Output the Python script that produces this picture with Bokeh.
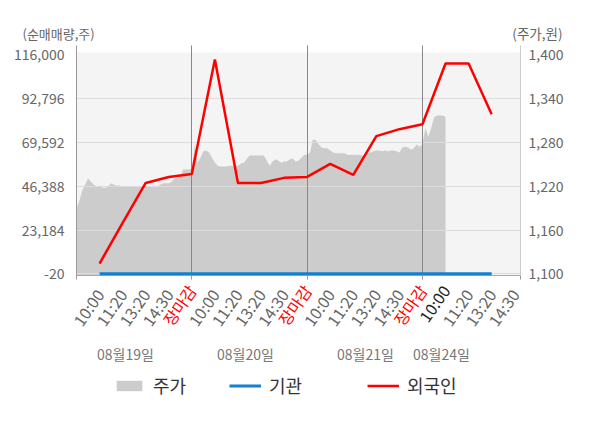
import math
from bokeh.plotting import figure
from bokeh.models import (Range1d, LinearAxis, FixedTicker, NumeralTickFormatter, Grid,
                          BoxAnnotation, Legend, LegendItem, Label)
from bokeh.embed import file_html
from bokeh.resources import INLINE

# ---------------- data ----------------
tick_labels = ["10:00", "11:20", "13:20", "14:30", "장마감",
               "10:00", "11:20", "13:20", "14:30", "장마감",
               "10:00", "11:20", "13:20", "14:30", "장마감",
               "10:00", "11:20", "13:20", "14:30"]
day_labels = ["08월19일", "08월20일", "08월21일", "08월24일"]
series_names = ["주가", "기관", "외국인"]

# 외국인 net buying (shares), one value per labelled slot
foreign = [5400, 27000, 48100, 51300, 52900,
           113500, 48100, 48100, 50800, 51300,
           58200, 52400, 72900, 76600, 79200,
           111400, 111400, 84500]
# 기관 net buying (shares)
institution = [0, 0, 0, 0, 0,
               0, 0, 0, 0, 0,
               0, 0, 0, 0, 0,
               0, 0, 0]
# 주가 (won), 8 samples per slot, starting at 09:00 of 08월19일
price = [1189, 1200, 1214, 1222, 1231, 1226, 1222, 1220, 1221, 1218,
         1218, 1220, 1224, 1222, 1221, 1221, 1220, 1220, 1220, 1220,
         1220, 1220, 1220, 1220, 1220, 1220, 1220, 1221, 1220, 1222,
         1224, 1224, 1224, 1226, 1231, 1231, 1233, 1243, 1243, 1243,
         1244, 1276, 1252, 1259, 1268, 1269, 1266, 1259, 1252, 1248,
         1247, 1247, 1247, 1248, 1248, 1248, 1248, 1251, 1252, 1257,
         1262, 1262, 1262, 1262, 1262, 1262, 1255, 1248, 1254, 1257,
         1255, 1252, 1254, 1254, 1257, 1258, 1254, 1255, 1259, 1263,
         1263, 1266, 1284, 1283, 1277, 1273, 1272, 1272, 1269, 1266,
         1265, 1265, 1265, 1265, 1263, 1263, 1263, 1263, 1263, 1262,
         1262, 1265, 1266, 1268, 1269, 1269, 1268, 1269, 1268, 1269,
         1269, 1268, 1266, 1273, 1274, 1273, 1270, 1272, 1277, 1274,
         1277, 1300, 1288, 1299, 1314, 1317, 1317, 1317, 1315]
samples_per_slot = 8

left_ticks = [-20, 23184, 46388, 69592, 92796, 116000]
right_ticks = [1100, 1160, 1220, 1280, 1340, 1400]

# ---------------- layout (pixels) ----------------
FONT = "Noto Sans CJK KR"
W, H = 600, 428
CH_L, CH_R = 76, 520          # chart box
CH_T, CH_B = 52, 274.5
AX_T, SEP_B = 45, 277         # axis lines / day separators extend to these
Y0_PX, Y1_PX = 273.3, 54.3    # first / last value-axis tick
X_LO, X_HI = -1, 18.25        # chart extent in slot units
day_label_px = [125, 245, 365, 441]
legend_px = [113, 229, 367]   # left edge of each legend entry
LEGEND_Y = 30                 # legend bottom, px above figure bottom

PPU = (CH_R - CH_L) / (X_HI - X_LO)
VPP = (left_ticks[-1] - left_ticks[0]) / (Y0_PX - Y1_PX)
RPP = (right_ticks[-1] - right_ticks[0]) / (Y0_PX - Y1_PX)


def xd(px):
    return X_LO + (px - CH_L) / PPU


def yd(py):
    return left_ticks[0] + (Y0_PX - py) * VPP


def rd(py):
    return right_ticks[0] + (Y0_PX - py) * RPP


n_days = len(day_labels)
slots_per_day = 5
day_bounds = [X_LO + slots_per_day * d for d in range(1, n_days)]
session_edges = [X_LO] + day_bounds + [X_HI]
slot_x = list(range(len(foreign)))
price_x = [X_LO + i / samples_per_slot for i in range(len(price))]
current_slot = int(round((len(price) - 1) / samples_per_slot + X_LO))
close_idx = [i for i, t in enumerate(tick_labels) if t == "장마감"]
normal_idx = [i for i in range(len(tick_labels)) if i not in close_idx and i != current_slot]

p = figure(width=W, height=H, x_range=Range1d(xd(0), xd(W)), y_range=Range1d(yd(H), yd(0)),
           x_axis_location=None, y_axis_location=None, min_border=0,
           output_backend="svg", toolbar_location=None,
           background_fill_color="white", border_fill_color="white", outline_line_color=None)
p.extra_y_ranges = {"price": Range1d(rd(H), rd(0))}
p.grid.visible = False

# chart background
p.add_layout(BoxAnnotation(left=X_LO, right=X_HI, bottom=yd(CH_B), top=yd(CH_T),
                           fill_color="#f4f4f4", fill_alpha=1.0, line_color=None, level="image"))

# grids
p.add_layout(Grid(dimension=1, ticker=FixedTicker(ticks=left_ticks[:-1]), cross_bounds=(X_LO, X_HI),
                  grid_line_color="#dddddd", level="glyph"))
p.add_layout(Grid(dimension=0, ticker=FixedTicker(ticks=day_bounds), cross_bounds=(yd(SEP_B), yd(AX_T)),
                  grid_line_color="#888888", level="glyph"))

# glyphs
area = p.varea(x=price_x, y1=rd(CH_B), y2=price, y_range_name="price",
               fill_color="#cccccc", level="underlay")
bl = p.line(x=slot_x, y=institution, line_color="#1580d0", line_width=3, level="annotation")
rl = p.line(x=slot_x, y=foreign, line_color="#ff0000", line_width=2.5, level="annotation")

# value axes
label_style = dict(major_label_text_font=FONT, major_label_text_font_size="14px",
                   major_label_text_color="#666666")
ya = LinearAxis(fixed_location=X_LO, bounds=(yd(CH_B), yd(AX_T)),
                ticker=FixedTicker(ticks=left_ticks), formatter=NumeralTickFormatter(format="0,0"),
                major_tick_out=0, major_tick_in=0, minor_tick_line_color=None,
                axis_line_color="#999999", major_label_standoff=12, **label_style)
p.add_layout(ya, "left")
ra = LinearAxis(y_range_name="price", fixed_location=X_HI, bounds=(rd(CH_B), rd(AX_T)),
                ticker=FixedTicker(ticks=right_ticks), formatter=NumeralTickFormatter(format="0,0"),
                major_tick_out=0, major_tick_in=0, minor_tick_line_color=None,
                axis_line_color="#cccccc", major_label_standoff=8, **label_style)
p.add_layout(ra, "right")

# time axes (same place, different label colours)
ANGLE = 0.96
x_common = dict(fixed_location=yd(CH_B), bounds=(X_LO, X_HI), major_label_orientation=ANGLE,
                major_tick_out=0, major_tick_in=0, major_label_standoff=12,
                major_label_text_font=FONT, major_label_text_font_size="16px")
xa = LinearAxis(ticker=FixedTicker(ticks=normal_idx, minor_ticks=session_edges),
                major_label_overrides={i: tick_labels[i] for i in normal_idx},
                minor_tick_out=4, minor_tick_in=0, minor_tick_line_color="#999999",
                axis_line_color="#aaaaaa", major_label_text_color="#666666", **x_common)
p.add_layout(xa, "below")
xr = LinearAxis(ticker=FixedTicker(ticks=close_idx, minor_ticks=[]),
                major_label_overrides={i: tick_labels[i] for i in close_idx},
                axis_line_color=None, minor_tick_line_color=None,
                major_label_text_color="#ff0000", **x_common)
p.add_layout(xr, "below")
xc = LinearAxis(ticker=FixedTicker(ticks=[current_slot], minor_ticks=[]),
                major_label_overrides={current_slot: tick_labels[current_slot]},
                axis_line_color=None, minor_tick_line_color=None,
                major_label_text_color="#222222", **x_common)
p.add_layout(xc, "below")

# date axis
day_pos = [xd(v) for v in day_label_px]
xdays = LinearAxis(fixed_location=yd(CH_B), bounds=(X_LO, X_HI),
                   ticker=FixedTicker(ticks=day_pos, minor_ticks=[]),
                   major_label_overrides={v: t for v, t in zip(day_pos, day_labels)},
                   axis_line_color=None, major_tick_line_color=None, minor_tick_line_color=None,
                   major_label_standoff=63, major_label_text_font=FONT,
                   major_label_text_font_size="14px", major_label_text_color="#777777")
p.add_layout(xdays, "below")

# legend entries
for name, rend, lx in zip(series_names, [area, bl, rl], legend_px):
    p.add_layout(Legend(items=[LegendItem(label=name, renderers=[rend])],
                        orientation="horizontal", location=(lx, LEGEND_Y),
                        glyph_width=32, glyph_height=13, label_standoff=8,
                        border_line_color=None, background_fill_alpha=0,
                        label_text_font=FONT, label_text_font_size="18px",
                        label_text_color="#333333", margin=0, padding=6))

# unit labels
p.add_layout(Label(x=xd(22), y=yd(32.5), text="(순매매량,주)", text_align="left",
                   text_baseline="middle", text_font=FONT, text_font_size="13px",
                   text_color="#666666"))
p.add_layout(Label(x=xd(562), y=yd(32.5), text="(주가,원)", text_align="right",
                   text_baseline="middle", text_font=FONT, text_font_size="13.5px",
                   text_color="#666666"))

open("out.html", "w").write(file_html(p, INLINE))
